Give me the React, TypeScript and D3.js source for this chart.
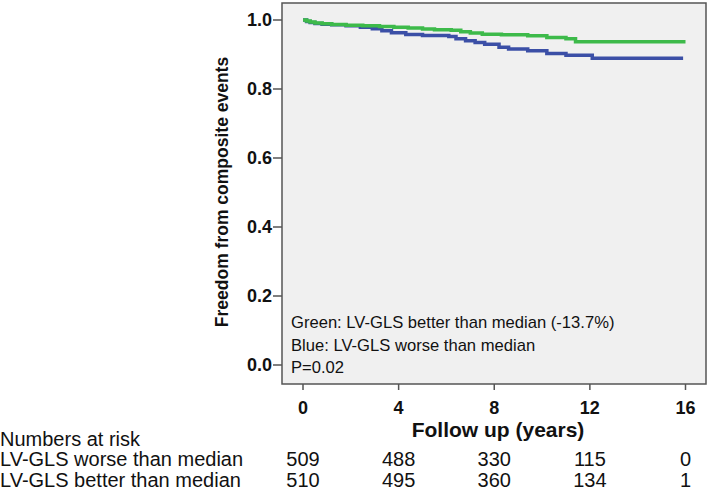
import React from "react";
import * as d3 from "d3";

const yTicks = [0.0, 0.2, 0.4, 0.6, 0.8, 1.0];
const xTicks = [0, 4, 8, 12, 16];

const greenTimes = [0, 0.15, 0.3, 0.5, 0.8, 1.2, 1.8, 2.5, 3.2, 3.8, 4.4, 5.0, 5.5, 6.2, 6.6, 7.0, 7.5, 8.3, 9.4, 10.2, 11.0, 11.4, 16.0];
const greenSurv = [1.0, 0.997, 0.994, 0.991, 0.989, 0.987, 0.985, 0.983, 0.981, 0.979, 0.977, 0.974, 0.972, 0.970, 0.966, 0.962, 0.959, 0.957, 0.954, 0.949, 0.946, 0.937, 0.937];

const blueTimes = [0, 0.15, 0.3, 0.5, 0.8, 1.2, 1.8, 2.4, 2.9, 3.3, 3.7, 4.3, 5.0, 6.1, 6.4, 6.8, 7.2, 7.6, 8.2, 8.6, 9.4, 10.2, 11.0, 12.1, 15.9];
const blueSurv = [1.0, 0.996, 0.993, 0.99, 0.988, 0.986, 0.983, 0.979, 0.975, 0.969, 0.963, 0.958, 0.955, 0.952, 0.946, 0.94, 0.935, 0.93, 0.921, 0.916, 0.911, 0.903, 0.898, 0.889, 0.889];

const riskLabels = ["LV-GLS worse than median", "LV-GLS better than median"];
const riskWorse = [509, 488, 330, 115, 0];
const riskBetter = [510, 495, 360, 134, 1];

const annotations = [
  "Green: LV-GLS better than median (-13.7%)",
  "Blue: LV-GLS worse than median",
  "P=0.02",
];

const GREEN = "#3dba4a";
const BLUE = "#3b4fa6";

export default function App() {
  const box = { left: 282, top: 3, right: 706, bottom: 384 };
  const x = d3.scaleLinear().domain([0, 16]).range([303, 685.5]);
  const y = d3.scaleLinear().domain([0, 1]).range([365, 20]);
  const line = d3
    .line<[number, number]>()
    .x((d) => x(d[0]))
    .y((d) => y(d[1]))
    .curve(d3.curveStepAfter);
  const green = greenTimes.map((t, i) => [t, greenSurv[i]] as [number, number]);
  const blue = blueTimes.map((t, i) => [t, blueSurv[i]] as [number, number]);
  const font = "Arial, 'Liberation Sans', sans-serif";
  const rows = [riskWorse, riskBetter];
  return (
    <svg
      width={709}
      height={489}
      style={{ position: "absolute", left: 0, top: 0, background: "#fff" }}
      fontFamily={font}
    >
      <rect
        x={box.left}
        y={box.top}
        width={box.right - box.left}
        height={box.bottom - box.top}
        fill="#f0f0f0"
        stroke="#555"
        strokeWidth={1.5}
      />
      {yTicks.map((v) => (
        <g key={"y" + v}>
          <line x1={273} x2={box.left} y1={y(v)} y2={y(v)} stroke="#555" strokeWidth={1.5} />
          <text x={272} y={y(v)} dy="0.36em" textAnchor="end" fontSize={18} fontWeight="bold" fill="#111">
            {v.toFixed(1)}
          </text>
        </g>
      ))}
      {xTicks.map((t) => (
        <g key={"x" + t}>
          <line x1={x(t)} x2={x(t)} y1={box.bottom} y2={box.bottom + 6} stroke="#555" strokeWidth={1.5} />
          <text x={x(t)} y={414} textAnchor="middle" fontSize={18} fontWeight="bold" fill="#111">
            {t}
          </text>
        </g>
      ))}
      <text
        transform={`translate(228,192) rotate(-90)`}
        textAnchor="middle"
        fontSize={17.5}
        fontWeight="bold"
        fill="#111"
      >
        Freedom from composite events
      </text>
      <path d={line(blue) || ""} fill="none" stroke={BLUE} strokeWidth={3.5} />
      <path d={line(green) || ""} fill="none" stroke={GREEN} strokeWidth={3.5} />
      {annotations.map((a, i) => (
        <text key={a} x={291} y={328 + i * 22.5} fontSize={16.6} fill="#111">
          {a}
        </text>
      ))}
      <text x={498} y={437} textAnchor="middle" fontSize={21} fontWeight="bold" fill="#111">
        Follow up (years)
      </text>
      <text x={0} y={446} fontSize={20} fill="#111">
        Numbers at risk
      </text>
      {rows.map((r, ri) => (
        <g key={"r" + ri}>
          <text x={0} y={466 + ri * 20.5} fontSize={20} fill="#111">
            {riskLabels[ri]}
          </text>
          {r.map((n, i) => (
            <text key={i} x={x(xTicks[i])} y={466 + ri * 20.5} textAnchor="middle" fontSize={20} fill="#111">
              {n}
            </text>
          ))}
        </g>
      ))}
    </svg>
  );
}
